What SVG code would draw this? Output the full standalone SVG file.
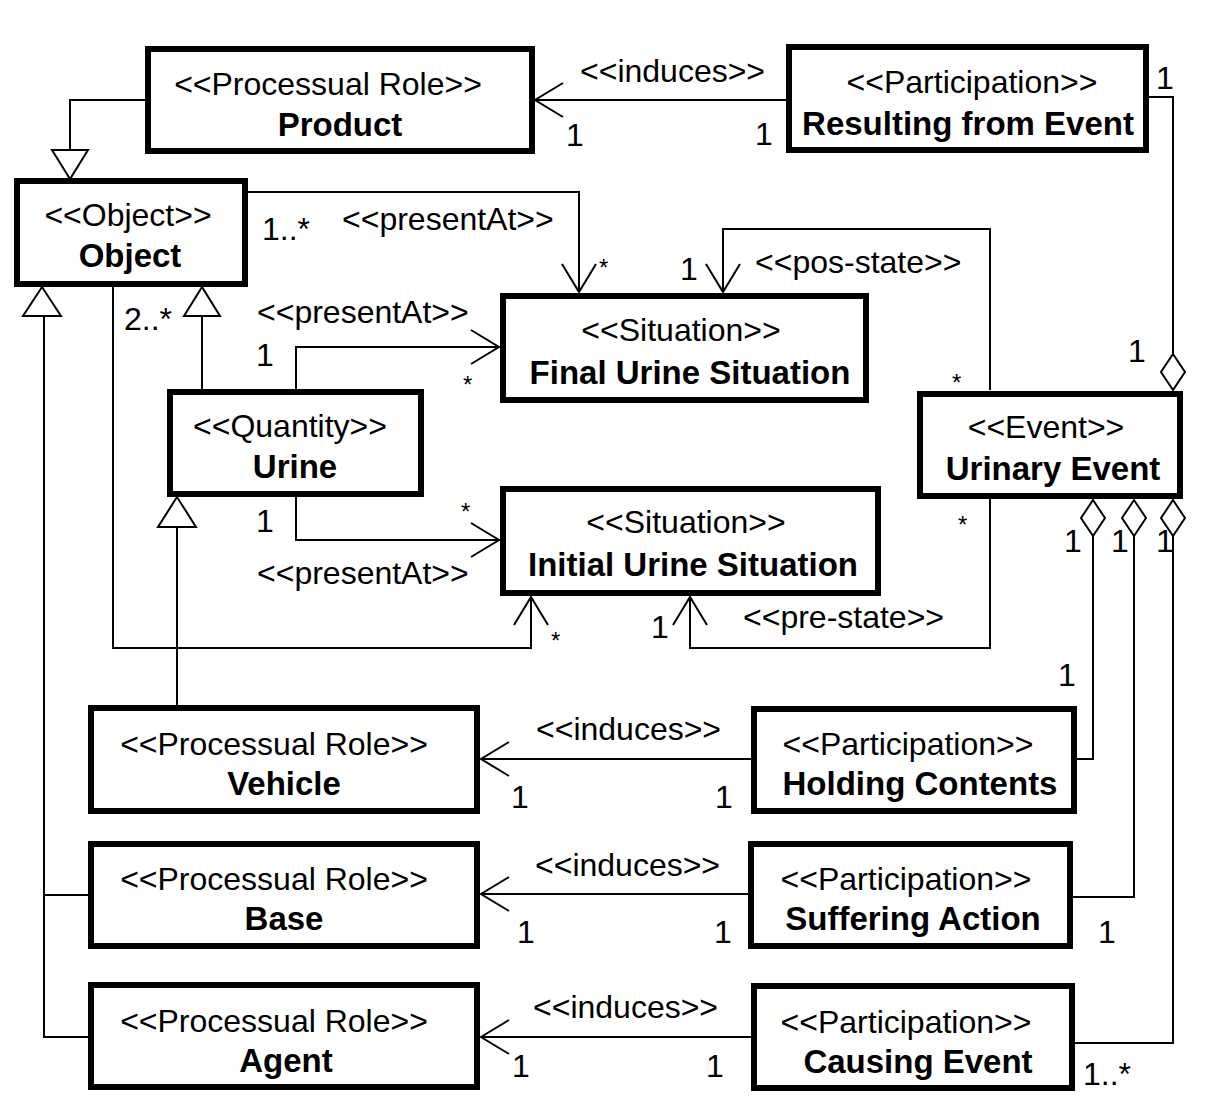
<svg xmlns="http://www.w3.org/2000/svg" width="1206" height="1118" viewBox="0 0 1206 1118">
<defs>
<style>
.box{fill:#fff;stroke:#000;stroke-width:6}
.st{font-family:"Liberation Sans",Arial,sans-serif;font-size:32px;text-anchor:middle;fill:#000}
.nm{font-family:"Liberation Sans",Arial,sans-serif;font-size:33px;font-weight:bold;text-anchor:middle;fill:#000}
.lb{font-family:"Liberation Sans",Arial,sans-serif;font-size:32px;fill:#000}
.ast{font-family:"Liberation Sans",Arial,sans-serif;font-size:24px;fill:#000}
.ln{fill:none;stroke:#000;stroke-width:2}
.tri{fill:#fff;stroke:#000;stroke-width:2}
.dia{fill:#fff;stroke:#000;stroke-width:2}
</style>
<marker id="open" markerUnits="userSpaceOnUse" markerWidth="40" markerHeight="40" viewBox="-32 -20 34 40" refX="0" refY="0" orient="auto">
<path d="M -28 -17 L 0 0 L -28 17" fill="none" stroke="#000" stroke-width="2"/>
</marker>
</defs>
<rect width="1206" height="1118" fill="#fff"/>

<g id="connectors">
<path class="ln" d="M146 100 H70 V150"/>
<polygon class="tri" points="70,179 52,150 88,150"/>
<path class="ln" d="M787 100 H535" marker-end="url(#open)"/>
<path class="ln" d="M1148 97 H1173 V354"/>
<polygon class="dia" points="1173,354 1185,372 1173,390 1161,372"/>
<path class="ln" d="M247 192 H579 V292" marker-end="url(#open)"/>
<path class="ln" d="M990 390 V229 H723 V292" marker-end="url(#open)"/>
<path class="ln" d="M296 390 V347 H499" marker-end="url(#open)"/>
<path class="ln" d="M296 496 V540 H499" marker-end="url(#open)"/>
<path class="ln" d="M113 286 V648 H531 V597" marker-end="url(#open)"/>
<path class="ln" d="M990 498 V648 H690 V597" marker-end="url(#open)"/>
<path class="ln" d="M202 390 V316"/>
<polygon class="tri" points="202,287 184,316 220,316"/>
<path class="ln" d="M44 316 V1037 H89 M44 895 H89"/>
<polygon class="tri" points="42,287 23,316 61,316"/>
<path class="ln" d="M177 706 V527"/>
<polygon class="tri" points="177,497 158,527 196,527"/>
<path class="ln" d="M752 759 H481" marker-end="url(#open)"/>
<path class="ln" d="M749 894 H481" marker-end="url(#open)"/>
<path class="ln" d="M752 1037 H481" marker-end="url(#open)"/>
<path class="ln" d="M1076 759 H1093 V536"/>
<polygon class="dia" points="1093,500 1105,518 1093,536 1081,518"/>
<path class="ln" d="M1072 897 H1134 V536"/>
<polygon class="dia" points="1134,500 1146,518 1134,536 1122,518"/>
<path class="ln" d="M1074 1043 H1173 V536"/>
<polygon class="dia" points="1173,500 1185,518 1173,536 1161,518"/>
</g>

<g id="labels">
<text class="lb" x="580" y="82">&lt;&lt;induces&gt;&gt;</text>
<text class="lb" x="566" y="146">1</text>
<text class="lb" x="755" y="145">1</text>
<text class="lb" x="1156" y="89">1</text>
<text class="lb" x="1128" y="362">1</text>
<text class="lb" x="262" y="240">1..*</text>
<text class="lb" x="342" y="230">&lt;&lt;presentAt&gt;&gt;</text>
<text class="ast" x="599" y="276">*</text>
<text class="lb" x="680" y="280">1</text>
<text class="lb" x="755" y="273">&lt;&lt;pos-state&gt;&gt;</text>
<text class="ast" x="952" y="391">*</text>
<text class="lb" x="124" y="330">2..*</text>
<text class="lb" x="257" y="323">&lt;&lt;presentAt&gt;&gt;</text>
<text class="lb" x="256" y="366">1</text>
<text class="ast" x="463" y="393">*</text>
<text class="lb" x="256" y="532">1</text>
<text class="ast" x="461" y="520">*</text>
<text class="lb" x="257" y="584">&lt;&lt;presentAt&gt;&gt;</text>
<text class="ast" x="551" y="649">*</text>
<text class="lb" x="651" y="638">1</text>
<text class="lb" x="743" y="628">&lt;&lt;pre-state&gt;&gt;</text>
<text class="ast" x="958" y="533">*</text>
<text class="lb" x="1064" y="552">1</text>
<text class="lb" x="1111" y="552">1</text>
<text class="lb" x="1156" y="552">1</text>
<text class="lb" x="1058" y="686">1</text>
<text class="lb" x="536" y="740">&lt;&lt;induces&gt;&gt;</text>
<text class="lb" x="511" y="808">1</text>
<text class="lb" x="715" y="808">1</text>
<text class="lb" x="535" y="876">&lt;&lt;induces&gt;&gt;</text>
<text class="lb" x="517" y="943">1</text>
<text class="lb" x="714" y="943">1</text>
<text class="lb" x="1098" y="943">1</text>
<text class="lb" x="533" y="1018">&lt;&lt;induces&gt;&gt;</text>
<text class="lb" x="512" y="1077">1</text>
<text class="lb" x="706" y="1077">1</text>
<text class="lb" x="1083" y="1085">1..*</text>
</g>

<g id="product">
<rect class="box" x="148" y="49" width="384" height="102"/>
<text class="st" x="328" y="95">&lt;&lt;Processual Role&gt;&gt;</text>
<text class="nm" x="340" y="136">Product</text>
</g>
<g id="resulting-from-event">
<rect class="box" x="789" y="47" width="357" height="103"/>
<text class="st" x="972" y="93">&lt;&lt;Participation&gt;&gt;</text>
<text class="nm" x="968" y="135">Resulting  from Event</text>
</g>
<g id="object">
<rect class="box" x="17" y="181" width="228" height="103"/>
<text class="st" x="128" y="226">&lt;&lt;Object&gt;&gt;</text>
<text class="nm" x="130" y="267">Object</text>
</g>
<g id="final-urine-situation">
<rect class="box" x="503" y="296" width="363" height="104"/>
<text class="st" x="681" y="341">&lt;&lt;Situation&gt;&gt;</text>
<text class="nm" x="690" y="384">Final Urine Situation</text>
</g>
<g id="urine">
<rect class="box" x="170" y="392" width="251" height="102"/>
<text class="st" x="290" y="437">&lt;&lt;Quantity&gt;&gt;</text>
<text class="nm" x="295" y="478">Urine</text>
</g>
<g id="initial-urine-situation">
<rect class="box" x="503" y="489" width="375" height="104"/>
<text class="st" x="686" y="533">&lt;&lt;Situation&gt;&gt;</text>
<text class="nm" x="693" y="576">Initial Urine Situation</text>
</g>
<g id="urinary-event">
<rect class="box" x="920" y="394" width="260" height="102"/>
<text class="st" x="1046" y="438">&lt;&lt;Event&gt;&gt;</text>
<text class="nm" x="1053" y="480">Urinary Event</text>
</g>
<g id="vehicle">
<rect class="box" x="91" y="708" width="386" height="103"/>
<text class="st" x="274" y="755">&lt;&lt;Processual Role&gt;&gt;</text>
<text class="nm" x="284" y="795">Vehicle</text>
</g>
<g id="holding-contents">
<rect class="box" x="754" y="709" width="320" height="102"/>
<text class="st" x="908" y="755">&lt;&lt;Participation&gt;&gt;</text>
<text class="nm" x="920" y="795">Holding Contents</text>
</g>
<g id="base">
<rect class="box" x="91" y="844" width="386" height="102"/>
<text class="st" x="274" y="890">&lt;&lt;Processual Role&gt;&gt;</text>
<text class="nm" x="284" y="930">Base</text>
</g>
<g id="suffering-action">
<rect class="box" x="751" y="844" width="319" height="102"/>
<text class="st" x="906" y="890">&lt;&lt;Participation&gt;&gt;</text>
<text class="nm" x="913" y="930">Suffering Action</text>
</g>
<g id="agent">
<rect class="box" x="91" y="985" width="386" height="102"/>
<text class="st" x="274" y="1032">&lt;&lt;Processual Role&gt;&gt;</text>
<text class="nm" x="286" y="1072">Agent</text>
</g>
<g id="causing-event">
<rect class="box" x="754" y="986" width="318" height="102"/>
<text class="st" x="906" y="1033">&lt;&lt;Participation&gt;&gt;</text>
<text class="nm" x="918" y="1073">Causing Event</text>
</g>
</svg>
